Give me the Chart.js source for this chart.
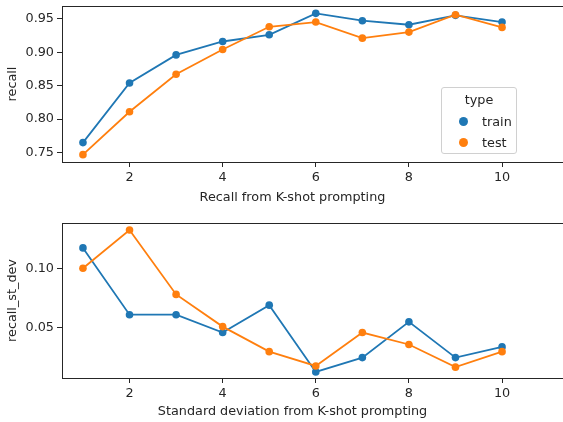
<!DOCTYPE html>
<html>
<head>
<meta charset="utf-8">
<script src="https://cdn.jsdelivr.net/npm/chart.js@4"></script>
<style>
  html, body { margin: 0; padding: 0; background: #fff; }
  #wrap { position: relative; width: 563px; height: 422px; overflow: hidden; }
  .box { position: absolute; left: 0; width: 563px; height: 211px; }
  #legend {
    position: absolute; left: 441px; top: 87px; width: 74px; height: 65px;
    border: 1px solid #d0d0d0; border-radius: 3px; background: rgba(255,255,255,0.8);
    font-family: "DejaVu Sans", sans-serif; font-size: 12.8px; color: #262626;
  }
  #legend .title { position: absolute; left: 0; width: 74px; top: 4px; text-align: center; }
  #legend .item { position: absolute; left: 40px; }
  #legend .dot { position: absolute; left: -23px; top: 3px; width: 9px; height: 9px; border-radius: 50%; }
</style>
</head>
<body>
<div id="wrap">
  <div class="box" style="top:0"><canvas id="topChart"></canvas></div>
  <div class="box" style="top:211px"><canvas id="bottomChart"></canvas></div>
  <div id="legend"></div>
</div>
<script>
const kValues = [1, 2, 3, 4, 5, 6, 7, 8, 9, 10];
const seriesNames = ['train', 'test'];
const recallTrain = [0.765, 0.854, 0.896, 0.916, 0.926, 0.958, 0.947, 0.941, 0.955, 0.945];
const recallTest = [0.747, 0.811, 0.867, 0.904, 0.938, 0.945, 0.921, 0.930, 0.956, 0.937];
const stdTrain = [0.117, 0.061, 0.061, 0.046, 0.069, 0.013, 0.025, 0.055, 0.025, 0.034];
const stdTest = [0.100, 0.132, 0.078, 0.051, 0.030, 0.018, 0.046, 0.036, 0.017, 0.030];
const xTicks = [2, 4, 6, 8, 10];
const recallTicks = [0.75, 0.80, 0.85, 0.90, 0.95];
const stdTicks = [0.05, 0.10];

const blue = '#1f77b4';
const orange = '#ff7f0e';
const font = { family: 'DejaVu Sans', size: 12.8 };
const ink = '#262626';

Chart.defaults.font.family = 'DejaVu Sans';
Chart.defaults.color = ink;

const pts = (ys) => kValues.map((k, i) => ({ x: k, y: ys[i] }));

// top and bottom spines run on to the right edge of the picture
const spines = {
  id: 'spines',
  afterDraw(chart) {
    const { ctx, chartArea } = chart;
    ctx.save();
    ctx.strokeStyle = ink;
    ctx.lineWidth = 1;
    ctx.beginPath();
    ctx.moveTo(chartArea.left, chartArea.top + 0.5);
    ctx.lineTo(chart.width, chartArea.top + 0.5);
    ctx.moveTo(chartArea.right - 1, chartArea.bottom + 0.5);
    ctx.lineTo(chart.width, chartArea.bottom + 0.5);
    ctx.stroke();
    ctx.restore();
  }
};

function makeChart(id, train, test, yTicks, ymin, ymax, yTitle, xTitle, padTop, xHeight, titlePad) {
  const ds = (label, data, color, order) => ({
    label, data, order,
    borderColor: color, backgroundColor: color,
    borderWidth: 1.8, pointRadius: 3.8, pointBorderWidth: 0,
    pointBackgroundColor: color, tension: 0
  });
  const noPad = (s) => { s.paddingTop = 0; s.paddingBottom = 0; s.paddingLeft = 0; s.paddingRight = 0; };
  return new Chart(document.getElementById(id), {
    type: 'line',
    data: {
      datasets: [
        ds(seriesNames[0], pts(train), blue, 1),
        ds(seriesNames[1], pts(test), orange, 0)
      ]
    },
    options: {
      responsive: true,
      maintainAspectRatio: false,
      animation: false,
      layout: { padding: { top: padTop, right: 40, bottom: 0, left: 0 } },
      plugins: { legend: { display: false }, tooltip: { enabled: false } },
      scales: {
        x: {
          type: 'linear', min: 0.55, max: 10.45,
          afterBuildTicks: (s) => { s.ticks = xTicks.map(v => ({ value: v })); },
          afterFit: (s) => { s.height = xHeight; noPad(s); },
          grid: { drawOnChartArea: false, drawTicks: true, tickLength: 5, tickColor: ink, tickWidth: 1 },
          border: { display: true, color: ink, width: 1 },
          ticks: { font, color: ink, padding: 3, maxRotation: 0 },
          title: { display: true, text: xTitle, font, color: ink, padding: { top: 0, bottom: titlePad } }
        },
        y: {
          type: 'linear', min: ymin, max: ymax,
          afterBuildTicks: (s) => { s.ticks = yTicks.map(v => ({ value: v })); },
          afterFit: (s) => { s.width = 62; noPad(s); },
          grid: { drawOnChartArea: false, drawTicks: true, tickLength: 5, tickColor: ink, tickWidth: 1 },
          border: { display: true, color: ink, width: 1 },
          ticks: { font, color: ink, padding: 3, callback: (v) => v.toFixed(2) },
          title: { display: true, text: yTitle, font, color: ink, padding: { top: 5, bottom: 0 } }
        }
      }
    },
    plugins: [spines]
  });
}

makeChart('topChart', recallTrain, recallTest, recallTicks, 0.736, 0.969,
  'recall', 'Recall from K-shot prompting', 6, 49, 6);
makeChart('bottomChart', stdTrain, stdTest, stdTicks, 0.0079, 0.1379,
  'recall_st_dev', 'Standard deviation from K-shot prompting', 12, 44, 3);

// legend box (matplotlib style, lower right of top axes)
const legend = document.getElementById('legend');
legend.innerHTML = '<div class="title">type</div>' +
  seriesNames.map((name, i) =>
    `<div class="item" style="top:${26 + i * 21}px"><span class="dot" style="background:${i ? orange : blue}"></span>${name}</div>`
  ).join('');
</script>
</body>
</html>
